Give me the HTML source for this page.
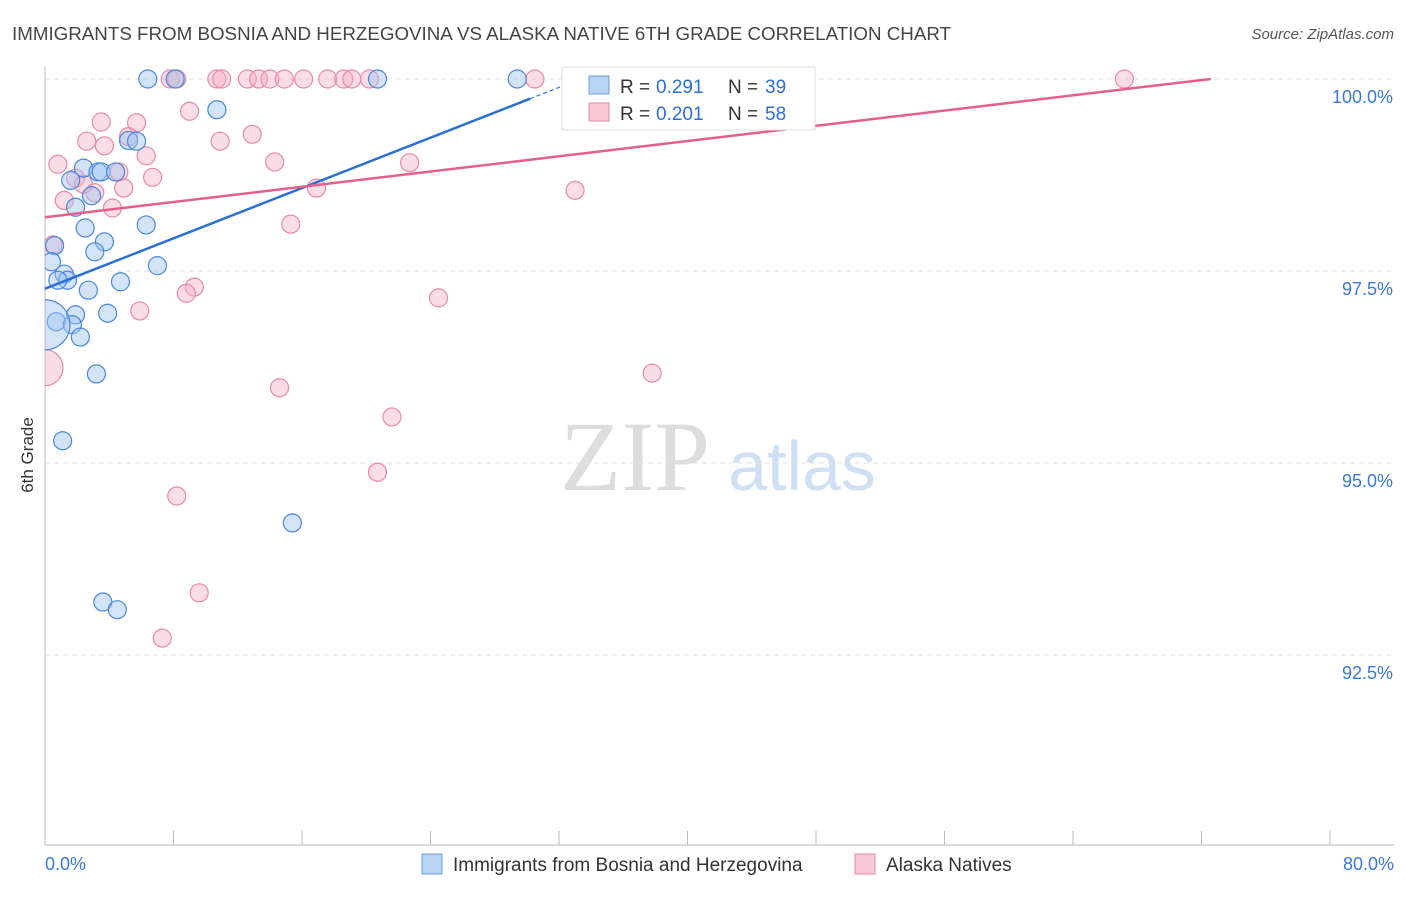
<!DOCTYPE html>
<html><head><meta charset="utf-8"><style>
body{margin:0;background:#fff;font-family:"Liberation Sans",sans-serif}
</style></head><body>
<svg id="chart" width="1406" height="892" xmlns="http://www.w3.org/2000/svg" font-family="Liberation Sans, sans-serif">
<defs><clipPath id="plotclip"><rect x="45" y="50" width="1360" height="795"/></clipPath></defs>
<text x="12" y="40" font-size="18" fill="#444" textLength="939" lengthAdjust="spacingAndGlyphs">IMMIGRANTS FROM BOSNIA AND HERZEGOVINA VS ALASKA NATIVE 6TH GRADE CORRELATION CHART</text>
<text x="1394" y="39" font-size="15" fill="#555" font-style="italic" text-anchor="end">Source: ZipAtlas.com</text>
<text transform="translate(33,455) rotate(-90)" font-size="17" fill="#333" text-anchor="middle">6th Grade</text>
<g><text x="635" y="490" font-size="100" fill="#ddd" style="font-family:'Liberation Serif',serif" text-anchor="middle">ZIP</text><text x="802" y="490" font-size="70" fill="#cfe0f5" text-anchor="middle">atlas</text></g>
<g id="grid"></g><g id="axes"></g><g id="pts" clip-path="url(#plotclip)"></g><g id="lines"></g>
<g>
<rect x="562" y="67" width="253" height="63" fill="#fff" stroke="#ddd"/>
<rect x="589" y="76" width="20" height="18" fill="#b9d3f5" stroke="#6a9be0"/>
<rect x="589" y="103" width="20" height="18" fill="#f9c8d6" stroke="#e88aa6"/>
<text x="620" y="93" font-size="19" fill="#333">R =</text><text x="656" y="93" font-size="19" fill="#2a6fd6">0.291</text>
<text x="728" y="93" font-size="19" fill="#333">N =</text><text x="765" y="93" font-size="19" fill="#2a6fd6">39</text>
<text x="620" y="120" font-size="19" fill="#333">R =</text><text x="656" y="120" font-size="19" fill="#2a6fd6">0.201</text>
<text x="728" y="120" font-size="19" fill="#333">N =</text><text x="765" y="120" font-size="19" fill="#2a6fd6">58</text>
</g>
<g>
<rect x="422" y="854" width="20" height="20" fill="#b9d3f5" stroke="#6a9be0"/>
<text x="453" y="871" font-size="19" fill="#333">Immigrants from Bosnia and Herzegovina</text>
<rect x="855" y="854" width="20" height="20" fill="#f9c8d6" stroke="#e88aa6"/>
<text x="886" y="871" font-size="19" fill="#333">Alaska Natives</text>
</g>
</svg>
<script>
const yTicks=[100,97.5,95,92.5];
const yTickLabels=["100.0%","97.5%","95.0%","92.5%"];
const xEndLabels=["0.0%","80.0%"];
const blueX=[6.4,8.1,20.7,29.4,10.7,5.2,5.7,2.4,3.3,3.5,4.4,1.6,2.9,1.9,6.3,2.5,3.7,0.6,3.1,0.4,7.0,1.2,1.4,0.8,2.7,4.7,3.9,1.9,0.7,1.7,0.0,2.2,3.2,1.1,15.4,3.6,4.5];
const blueY=[100,100,100,100,99.6,99.2,99.19,98.84,98.79,98.79,98.79,98.68,98.48,98.33,98.1,98.06,97.88,97.83,97.75,97.62,97.57,97.46,97.38,97.38,97.25,97.36,96.95,96.93,96.84,96.8,96.8,96.64,96.16,95.29,94.22,93.19,93.09];
const blueR=[9,9,9,9,9,9,9,9,9,9,9,9,9,9,9,9,9,9,9,9,9,9,9,9,9,9,9,9,9,9,25,9,9,9,9,9,9];
const pinkX=[7.8,8.2,10.7,11.0,12.6,13.3,14.0,14.9,16.1,17.6,18.6,19.1,20.2,30.5,41.6,45.5,67.2,9.0,3.5,5.7,5.2,2.6,12.9,10.9,3.7,6.3,0.8,14.3,22.7,6.7,4.6,1.9,2.4,3.1,4.9,16.9,33.0,1.2,4.2,15.3,0.5,9.3,8.8,24.5,5.9,0.0,37.8,14.6,21.6,20.7,8.2,9.6,7.3];
const pinkY=[100,100,100,100,100,100,100,100,100,100,100,100,100,100,100,100,100,99.58,99.44,99.43,99.25,99.19,99.28,99.19,99.13,99.0,98.89,98.92,98.91,98.72,98.79,98.71,98.63,98.52,98.58,98.58,98.55,98.42,98.32,98.11,97.84,97.29,97.21,97.15,96.98,96.24,96.17,95.98,95.6,94.88,94.57,93.31,92.72];
const pinkR=[9,9,9,9,9,9,9,9,9,9,9,9,9,9,9,9,9,9,9,9,9,9,9,9,9,9,9,9,9,9,9,9,9,9,9,9,9,9,9,9,9,9,9,9,9,18,9,9,9,9,9,9,9];
const blueFit=[97.27,0.0819];
const pinkFit=[98.2,0.0248];
const NS="http://www.w3.org/2000/svg";
const X=v=>45+v/80*1285, Y=v=>79+(100-v)/2.5*192;
function mk(t,a,p){const e=document.createElementNS(NS,t);for(const k in a)e.setAttribute(k,a[k]);document.getElementById(p).appendChild(e);return e;}
yTicks.forEach((t,i)=>{
 const g=mk('line',{x1:45,x2:1394,y1:Y(t),y2:Y(t),stroke:'#e2e2e2','stroke-dasharray':'5,4'},'grid');
 
 
 const l=mk('text',{x:1393,y:Y(t)+24,'font-size':18,fill:'#3b78d8','text-anchor':'end'},'axes');l.textContent=yTickLabels[i];
 
 
});
const ya=mk('line',{x1:45,x2:45,y1:67,y2:845,stroke:'#bbb'},'axes');


const xa=mk('line',{x1:45,x2:1394,y1:845,y2:845,stroke:'#bbb'},'axes');


for(let i=0;i<=10;i++){const t=mk('line',{x1:X(i*8),x2:X(i*8),y1:831,y2:845,stroke:'#bbb'},'axes');
 
 }
const xl0=mk('text',{x:45,y:870,'font-size':18,fill:'#3b78d8'},'axes');xl0.textContent=xEndLabels[0];


const xl1=mk('text',{x:1394,y:870,'font-size':18,fill:'#3b78d8','text-anchor':'end'},'axes');xl1.textContent=xEndLabels[1];


pinkX.forEach((v,i)=>{const c=mk('circle',{cx:X(v),cy:Y(pinkY[i]),r:pinkR[i],fill:'rgba(246,170,195,0.4)',stroke:'#e88aa6','stroke-width':1.2},'pts');
 
 });
blueX.forEach((v,i)=>{const c=mk('circle',{cx:X(v),cy:Y(blueY[i]),r:blueR[i],fill:'rgba(160,195,240,0.45)',stroke:'#4a86dd','stroke-width':1.2},'pts');
 
 });
const bEnd=30.2, bDash=32.2;
const bl=mk('line',{x1:X(0),y1:Y(blueFit[0]),x2:X(bEnd),y2:Y(blueFit[0]+blueFit[1]*bEnd),stroke:'#2a6fd6','stroke-width':2.5},'lines');


const bd=mk('line',{x1:X(bEnd),y1:Y(blueFit[0]+blueFit[1]*bEnd),x2:X(bDash),y2:Y(blueFit[0]+blueFit[1]*bDash),stroke:'#2a6fd6','stroke-width':1.2,'stroke-dasharray':'4,3'},'lines');


const pEnd=Math.min(80,(100-pinkFit[0])/pinkFit[1]);
const pl=mk('line',{x1:X(0),y1:Y(pinkFit[0]),x2:X(pEnd),y2:Y(pinkFit[0]+pinkFit[1]*pEnd),stroke:'#e4608a','stroke-width':2.5},'lines');


</script>
</body></html>
